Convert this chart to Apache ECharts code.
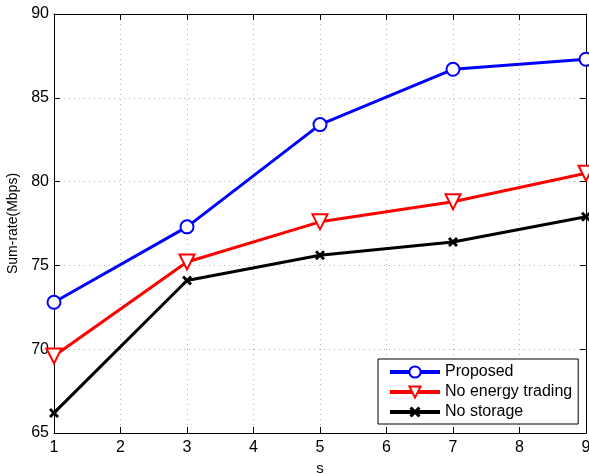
<!DOCTYPE html>
<html><head><meta charset="utf-8">
<script src="https://cdn.jsdelivr.net/npm/echarts@6/dist/echarts.min.js"></script>
<style>html,body{margin:0;padding:0;background:#fff}#c{width:589px;height:474px}</style>
</head><body><div id="c"></div>
<script>
const sValues = [1, 3, 5, 7, 9];
const proposed = [72.8, 77.3, 83.4, 86.7, 87.3];
const noEnergyTrading = [69.6, 75.2, 77.6, 78.8, 80.5];
const noStorage = [66.2, 74.1, 75.6, 76.4, 77.9];
const seriesNames = ['Proposed', 'No energy trading', 'No storage'];
const xTicks = [1, 2, 3, 4, 5, 6, 7, 8, 9];
const yTicks = [65, 70, 75, 80, 85, 90];

const F = 'Liberation Sans, Arial, sans-serif';
const xMark = 'path://M0,2 L2,0 L5,3 L8,0 L10,2 L7,5 L10,8 L8,10 L5,7 L2,10 L0,8 L3,5 Z';
const pair = (arr) => sValues.map((s, i) => [s, arr[i]]);

const chart = echarts.init(document.getElementById('c'));
const baseX = {type: 'value', min: xTicks[0], max: xTicks[xTicks.length-1], interval: 1,
  axisLine: {show: true, onZero: false, lineStyle: {color: '#000', width: 1}},
  axisTick: {show: true, inside: true, length: 6, lineStyle: {color: '#000'}}};
const baseY = {type: 'value', min: yTicks[0], max: yTicks[yTicks.length-1], interval: 5,
  axisLine: {show: true, onZero: false, lineStyle: {color: '#000', width: 1}},
  axisTick: {show: true, inside: true, length: 6, lineStyle: {color: '#000'}}};

chart.setOption({
  animation: false,
  grid: {left: 54, right: 3, top: 14, bottom: 41, containLabel: false, outerBoundsMode: 'none'},
  xAxis: [
    Object.assign({}, baseX, {position: 'bottom', name: 's', nameLocation: 'middle', nameGap: 25,
      nameTextStyle: {fontFamily: F, fontSize: 15, color: '#000'},
      axisLabel: {fontFamily: F, fontSize: 16, color: '#000', margin: 7},
      splitLine: {show: true, lineStyle: {color: '#b0b0b0', type: [1, 4], width: 1}}}),
    Object.assign({}, baseX, {position: 'top', axisLabel: {show: false}, splitLine: {show: false}})
  ],
  yAxis: [
    Object.assign({}, baseY, {position: 'left', name: 'Sum-rate(Mbps)', nameLocation: 'middle', nameGap: 29,
      nameTextStyle: {fontFamily: F, fontSize: 14, color: '#000'},
      axisLabel: {fontFamily: F, fontSize: 16, color: '#000', margin: 5},
      splitLine: {show: true, lineStyle: {color: '#b0b0b0', type: [1, 4], width: 1}}}),
    Object.assign({}, baseY, {position: 'right', axisLabel: {show: false}, splitLine: {show: false}})
  ],
  legend: {
    left: 378, top: 359, orient: 'vertical', itemGap: 4, itemWidth: 50, itemHeight: 14,
    padding: [5, 6, 4, 10], backgroundColor: '#fff', borderColor: '#000', borderWidth: 1, borderRadius: 0,
    textStyle: {fontFamily: F, fontSize: 16, color: '#000'},
    lineStyle: {width: 4},
    data: seriesNames
  },
  series: [
    {name: seriesNames[0], type: 'line', data: pair(proposed), symbol: 'emptyCircle', symbolSize: 13,
      lineStyle: {color: '#0000ff', width: 3}, itemStyle: {color: '#0000ff', borderWidth: 2.5}, z: 3},
    {name: seriesNames[1], type: 'line', data: pair(noEnergyTrading), symbol: 'emptyTriangle', symbolSize: 15, symbolRotate: 180,
      lineStyle: {color: '#ff0000', width: 3}, itemStyle: {color: '#ff0000', borderWidth: 2.5}, z: 2},
    {name: seriesNames[2], type: 'line', data: pair(noStorage), symbol: xMark, symbolSize: 10,
      lineStyle: {color: '#000', width: 3}, itemStyle: {color: '#000', borderWidth: 0}, z: 1}
  ]
});
</script></body></html>
